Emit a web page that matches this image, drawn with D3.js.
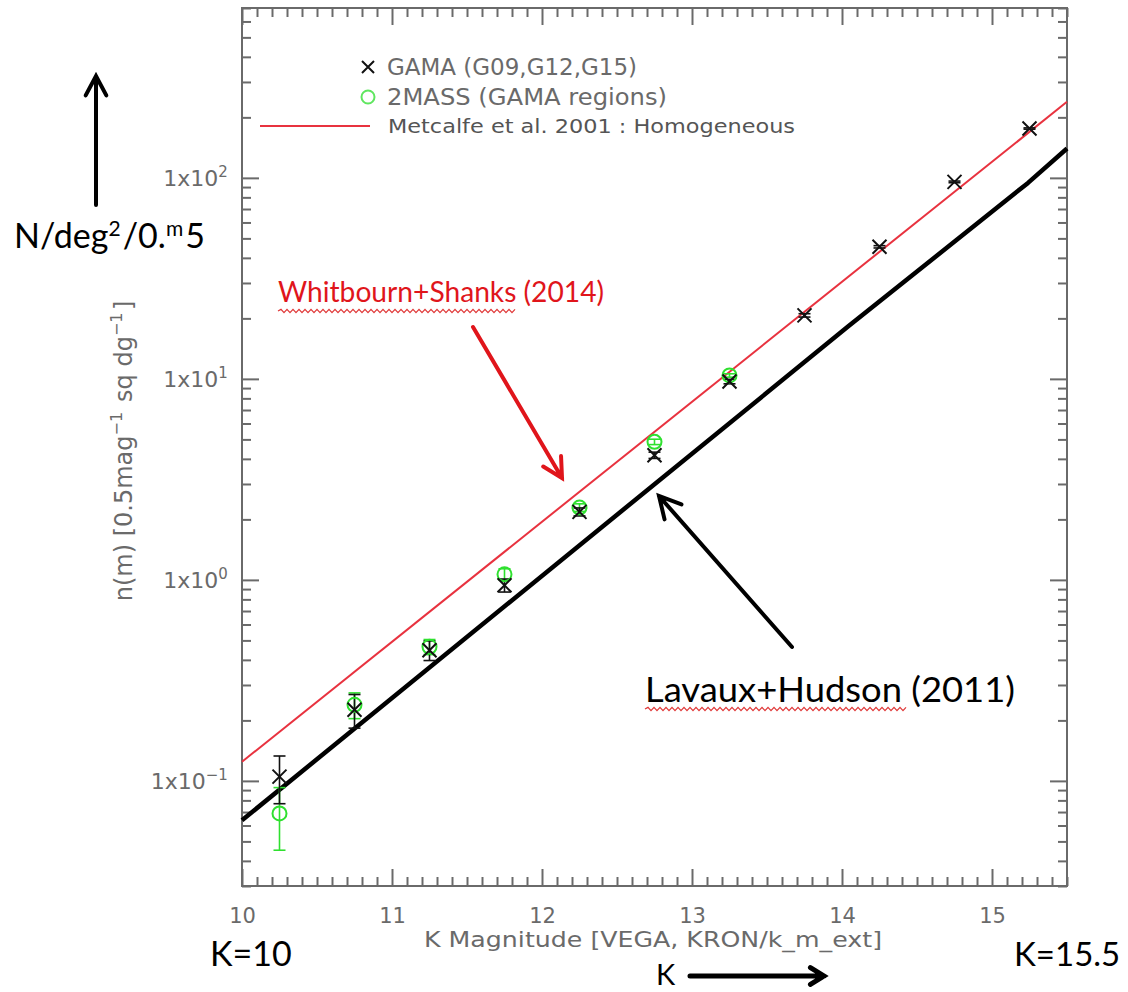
<!DOCTYPE html>
<html>
<head>
<meta charset="utf-8">
<script src="https://cdnjs.cloudflare.com/ajax/libs/d3/7.8.5/d3.min.js"></script>
<style>
  html, body { margin: 0; padding: 0; background: #fff; }
  svg { display: block; }
</style>
</head>
<body>
<svg id="chart" width="1128" height="992"></svg>
<script>
// K-band galaxy number counts, 0.5 mag bins
const gamaK      = [10.25, 10.75, 11.25, 11.75, 12.25, 12.75, 13.25, 13.75, 14.25, 14.75, 15.25];
const gamaCounts = [0.105, 0.226, 0.447, 0.94, 2.18, 4.17, 9.7, 20.7, 45.4, 95.5, 176];
const gamaErr    = [0.028, 0.043, 0.05, 0.07, 0.1, 0.15, 0.25, 0.4, 0.6, 0.9, 1.3];

const twoMassK      = [10.25, 10.75, 11.25, 11.75, 12.25, 12.75, 13.25];
const twoMassCounts = [0.0689, 0.239, 0.465, 1.066, 2.29, 4.86, 10.4];
const twoMassErr    = [0.0237, 0.035, 0.04, 0.07, 0.1, 0.15, 0.2];

// Metcalfe et al. 2001 homogeneous model
const metcalfeK = [10, 15.5];
const metcalfeN = [0.1245, 239];

// Lavaux & Hudson (2011) counts
const lavauxK = [10, 14.04, 15.24, 15.5];
const lavauxN = [0.0637, 18.2, 94.4, 140];

// axis ticks
const xTickValues = [10, 11, 12, 13, 14, 15];
const xTickLabels = ["10", "11", "12", "13", "14", "15"];
const yTickValues = [0.1, 1, 10, 100];
const yTickExponents = ["\u22121", "0", "1", "2"];

const legendLabels = ["GAMA (G09,G12,G15)", "2MASS (GAMA regions)", "Metcalfe et al. 2001 : Homogeneous"];

const W = 1128, H = 992;
const plot = { left: 242, right: 1067, top: 8, bottom: 886 };

const svg = d3.select("#chart");
svg.append("rect").attr("width", W).attr("height", H).attr("fill", "#fff");

const x = d3.scaleLinear().domain([10, 15.5]).range([plot.left, plot.right]);
const y = d3.scaleLog().domain([0.03, 700]).range([plot.bottom, plot.top]);

const axisColor = "#6a6a6a";
const textColor = "#6a6a6a";
const idlFont = "'DejaVu Sans', sans-serif";
const noteFont = "Lato, 'Open Sans', sans-serif";

// minor tick positions
const xMinor = d3.range(10, 15.5001, 0.1).map(v => +v.toFixed(1)).filter(v => !xTickValues.includes(v));
const yMinor = [];
[0.01, 0.1, 1, 10, 100].forEach(dec => {
  for (let m = 2; m <= 9; m++) {
    const v = +(m * dec).toPrecision(3);
    if (v >= 0.03 && v <= 700) yMinor.push(v);
  }
});

function styleAxis(g) {
  g.select(".domain").remove();
  g.selectAll(".tick line").attr("stroke", axisColor).attr("stroke-width", 2);
}

const majorLen = 17, minorLen = 9;
// bottom
svg.append("g").attr("transform", `translate(0,${plot.bottom})`)
  .call(d3.axisBottom(x).tickValues(xMinor).tickSizeInner(-minorLen).tickSizeOuter(0).tickFormat(""))
  .call(styleAxis);
const xAxisG = svg.append("g").attr("transform", `translate(0,${plot.bottom})`)
  .call(d3.axisBottom(x).tickValues(xTickValues).tickSizeInner(-majorLen).tickSizeOuter(0).tickPadding(22)
    .tickFormat((d, i) => xTickLabels[i]))
  .call(styleAxis);
xAxisG.selectAll(".tick text")
  .attr("font-family", idlFont).attr("font-size", 21).attr("fill", textColor);
// top
svg.append("g").attr("transform", `translate(0,${plot.top})`)
  .call(d3.axisTop(x).tickValues(xMinor).tickSizeInner(-minorLen).tickSizeOuter(0).tickFormat(""))
  .call(styleAxis);
svg.append("g").attr("transform", `translate(0,${plot.top})`)
  .call(d3.axisTop(x).tickValues(xTickValues).tickSizeInner(-majorLen).tickSizeOuter(0).tickFormat(""))
  .call(styleAxis);
// left
svg.append("g").attr("transform", `translate(${plot.left},0)`)
  .call(d3.axisLeft(y).tickValues(yMinor).tickSizeInner(-minorLen).tickSizeOuter(0).tickFormat(""))
  .call(styleAxis);
svg.append("g").attr("transform", `translate(${plot.left},0)`)
  .call(d3.axisLeft(y).tickValues(yTickValues).tickSizeInner(-majorLen).tickSizeOuter(0).tickFormat(""))
  .call(styleAxis);
// right
svg.append("g").attr("transform", `translate(${plot.right},0)`)
  .call(d3.axisRight(y).tickValues(yMinor).tickSizeInner(-minorLen).tickSizeOuter(0).tickFormat(""))
  .call(styleAxis);
svg.append("g").attr("transform", `translate(${plot.right},0)`)
  .call(d3.axisRight(y).tickValues(yTickValues).tickSizeInner(-majorLen).tickSizeOuter(0).tickFormat(""))
  .call(styleAxis);

// frame
svg.append("rect")
  .attr("x", plot.left).attr("y", plot.top)
  .attr("width", plot.right - plot.left).attr("height", plot.bottom - plot.top)
  .attr("fill", "none").attr("stroke", axisColor).attr("stroke-width", 2);

// text with superscript pieces
function richText(sel, parts, supSize, supRise) {
  parts.forEach(p => {
    if (p.sup) {
      sel.append("tspan").attr("dy", -supRise).attr("font-size", supSize).text(p.t);
      sel.append("tspan").attr("dy", supRise).text("\u200A");
    } else {
      sel.append("tspan").text(p.t);
    }
  });
  return sel;
}

// y tick labels: 1x10^n
yTickValues.forEach((v, i) => {
  const t = svg.append("text")
    .attr("x", 230).attr("y", y(v) + 8)
    .attr("text-anchor", "end")
    .attr("font-family", idlFont).attr("font-size", 22).attr("fill", textColor);
  richText(t, [{ t: "1x10" }, { t: yTickExponents[i], sup: true }], 15, 9);
});

// axis titles
svg.append("text")
  .attr("x", 424).attr("y", 947)
  .attr("font-family", idlFont).attr("font-size", 21).attr("fill", textColor)
  .attr("textLength", 458).attr("lengthAdjust", "spacingAndGlyphs")
  .text("K Magnitude [VEGA, KRON/k_m_ext]");

const yTitle = svg.append("text")
  .attr("transform", `translate(132,${(plot.top + plot.bottom) / 2 + 4}) rotate(-90)`)
  .attr("text-anchor", "middle")
  .attr("font-family", idlFont).attr("font-size", 24).attr("fill", textColor);
richText(yTitle, [{ t: "n(m) [0.5mag" }, { t: "\u22121", sup: true }, { t: " sq dg" }, { t: "\u22121", sup: true }, { t: "]" }], 16, 10);

// model lines
const line = d3.line().x(d => x(d[0])).y(d => y(d[1]));
const plotArea = svg.append("g");
plotArea.append("path")
  .datum(metcalfeK.map((k, i) => [k, metcalfeN[i]]))
  .attr("d", line).attr("fill", "none").attr("stroke", "#e8323f").attr("stroke-width", 2);
plotArea.append("path")
  .datum(lavauxK.map((k, i) => [k, lavauxN[i]]))
  .attr("d", line).attr("fill", "none").attr("stroke", "#000").attr("stroke-width", 4.5)
  .attr("stroke-linejoin", "round");

// error bars
function errorBars(ks, vals, errs, color) {
  const g = plotArea.append("g").attr("stroke", color).attr("stroke-width", 1.6).attr("fill", "none");
  ks.forEach((k, i) => {
    const cx = x(k), y0 = y(vals[i] - errs[i]), y1 = y(vals[i] + errs[i]);
    g.append("line").attr("x1", cx).attr("x2", cx).attr("y1", y0).attr("y2", y1);
    g.append("line").attr("x1", cx - 6).attr("x2", cx + 6).attr("y1", y0).attr("y2", y0);
    g.append("line").attr("x1", cx - 6).attr("x2", cx + 6).attr("y1", y1).attr("y2", y1);
  });
}
const green = "#2fe02f";
errorBars(twoMassK, twoMassCounts, twoMassErr, green);
errorBars(gamaK, gamaCounts, gamaErr, "#111");

// 2MASS circles
plotArea.append("g").selectAll("circle")
  .data(twoMassK.map((k, i) => [k, twoMassCounts[i]]))
  .join("circle")
  .attr("cx", d => x(d[0])).attr("cy", d => y(d[1])).attr("r", 7)
  .attr("fill", "none").attr("stroke", green).attr("stroke-width", 2);

// GAMA crosses
function drawX(g, cx, cy, s) {
  g.append("path")
    .attr("d", `M${cx - s},${cy - s}L${cx + s},${cy + s}M${cx - s},${cy + s}L${cx + s},${cy - s}`)
    .attr("stroke", "#111").attr("stroke-width", 2).attr("fill", "none");
}
const gx = plotArea.append("g");
gamaK.forEach((k, i) => drawX(gx, x(k), y(gamaCounts[i]), 7));

// legend
const lg = svg.append("g");
drawX(lg, 368, 67, 6);
lg.append("text").attr("x", 387).attr("y", 75)
  .attr("font-family", idlFont).attr("font-size", 23).attr("fill", textColor)
  .attr("textLength", 250).attr("lengthAdjust", "spacingAndGlyphs").text(legendLabels[0]);
lg.append("circle").attr("cx", 368).attr("cy", 97).attr("r", 6.5)
  .attr("fill", "none").attr("stroke", "#5fe65f").attr("stroke-width", 2);
lg.append("text").attr("x", 387).attr("y", 105)
  .attr("font-family", idlFont).attr("font-size", 23).attr("fill", textColor)
  .attr("textLength", 280).attr("lengthAdjust", "spacingAndGlyphs").text(legendLabels[1]);
lg.append("line").attr("x1", 260).attr("x2", 370).attr("y1", 126).attr("y2", 126)
  .attr("stroke", "#e8323f").attr("stroke-width", 2);
lg.append("text").attr("x", 388).attr("y", 133)
  .attr("font-family", idlFont).attr("font-size", 19).attr("fill", "#555")
  .attr("textLength", 407).attr("lengthAdjust", "spacingAndGlyphs").text(legendLabels[2]);

// annotations
function arrow(x1, y1, x2, y2, color, width, head, angleDeg) {
  const a = Math.atan2(y2 - y1, x2 - x1), h = angleDeg * Math.PI / 180;
  const b1 = [x2 - head * Math.cos(a - h), y2 - head * Math.sin(a - h)];
  const b2 = [x2 - head * Math.cos(a + h), y2 - head * Math.sin(a + h)];
  svg.append("path")
    .attr("d", `M${x1},${y1}L${x2},${y2}M${b1[0]},${b1[1]}L${x2},${y2}L${b2[0]},${b2[1]}`)
    .attr("fill", "none").attr("stroke", color).attr("stroke-width", width)
    .attr("stroke-linecap", "round").attr("stroke-linejoin", "miter");
}
function squiggle(x0, x1, yy) {
  let d = `M${x0},${yy}`;
  let up = true;
  for (let xx = x0 + 3; xx <= x1; xx += 3) { d += `L${xx},${yy + (up ? -1.6 : 1.6)}`; up = !up; }
  svg.append("path").attr("d", d).attr("fill", "none").attr("stroke", "#e03a3a").attr("stroke-width", 1.3);
}

// vertical axis note
arrow(96, 205, 96, 76, "#000", 4, 22, 28);
const nNote = svg.append("text").attr("x", 14).attr("y", 248)
  .attr("font-family", noteFont).attr("font-size", 34).attr("fill", "#000");
richText(nNote, [{ t: "N/deg" }, { t: "2", sup: true }, { t: "/0." }, { t: "m", sup: true }, { t: "5" }], 21, 12);

// Whitbourn+Shanks
svg.append("text").attr("x", 278).attr("y", 302)
  .attr("font-family", noteFont).attr("font-size", 29).attr("fill", "#e0151b")
  .attr("textLength", 326).attr("lengthAdjust", "spacingAndGlyphs")
  .text("Whitbourn+Shanks (2014)");
squiggle(278, 515, 311);
arrow(473, 327, 562, 478, "#e0151b", 4, 22, 28);

// Lavaux+Hudson
svg.append("text").attr("x", 645).attr("y", 702)
  .attr("font-family", noteFont).attr("font-size", 35).attr("fill", "#000")
  .attr("textLength", 370).attr("lengthAdjust", "spacingAndGlyphs")
  .text("Lavaux+Hudson (2011)");
squiggle(645, 907, 709);
arrow(792, 647, 659, 496, "#000", 4, 24, 28);

// magnitude range notes
svg.append("text").attr("x", 210).attr("y", 966)
  .attr("font-family", noteFont).attr("font-size", 34).attr("fill", "#000").text("K=10");
svg.append("text").attr("x", 1014).attr("y", 966)
  .attr("font-family", noteFont).attr("font-size", 33).attr("fill", "#000").text("K=15.5");
svg.append("text").attr("x", 656).attr("y", 985)
  .attr("font-family", noteFont).attr("font-size", 29).attr("fill", "#000").text("K");
arrow(690, 976, 824, 976, "#000", 5, 16, 32);
</script>
</body>
</html>
